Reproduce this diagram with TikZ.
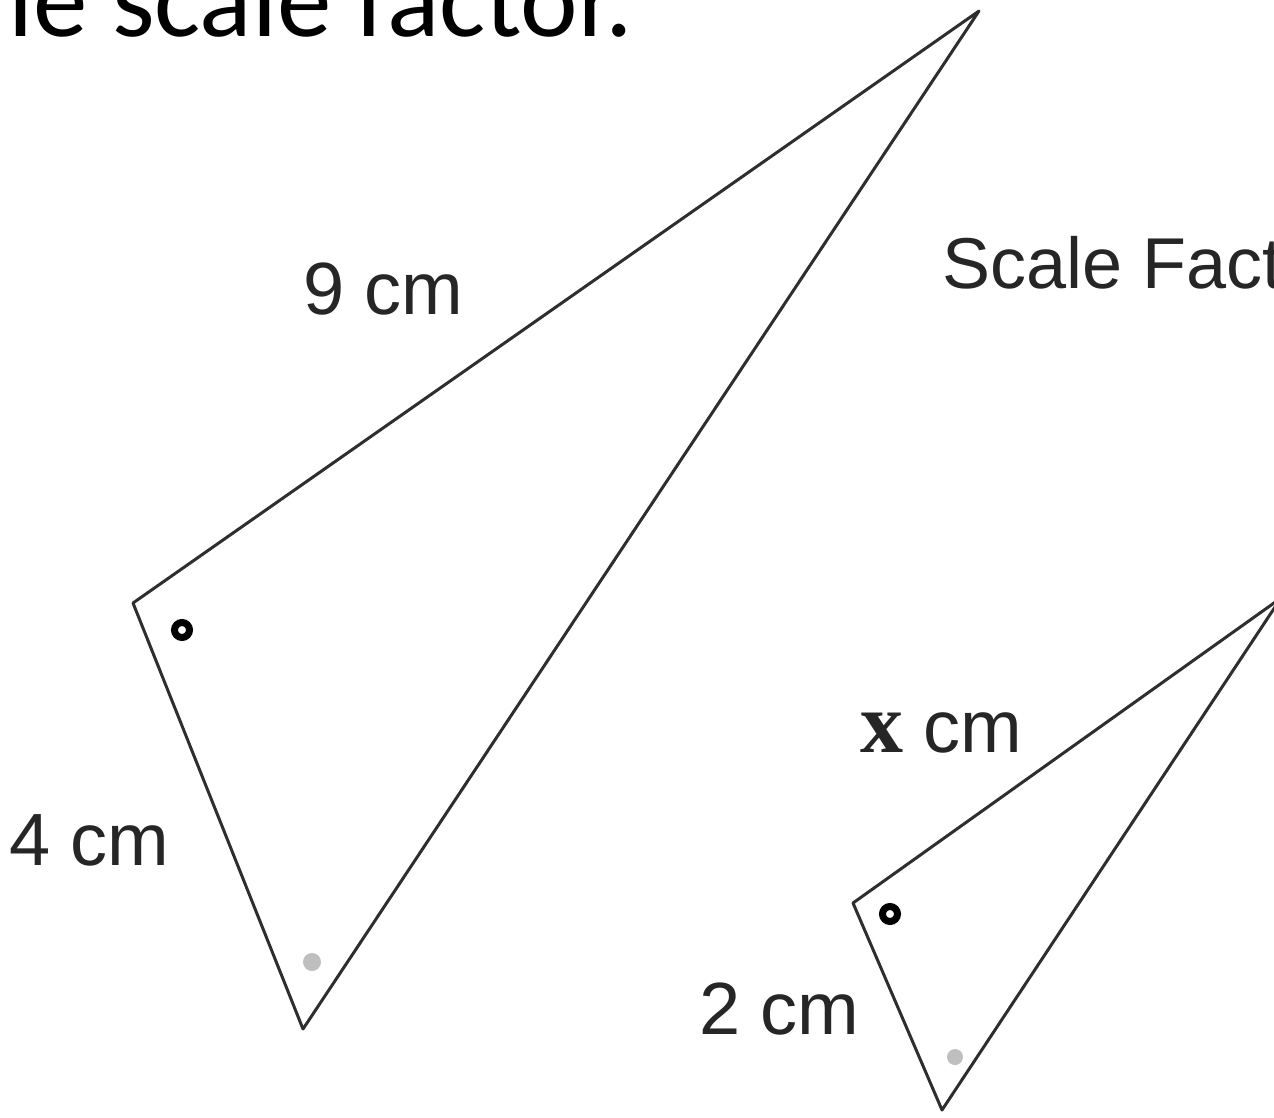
\documentclass[tikz,border=0pt]{standalone}
\usepackage{fontspec}
\setmainfont{Liberation Sans}
\newfontfamily\titlefont{Carlito}
\newfontfamily\serifx{Liberation Serif}
\begin{document}
\begin{tikzpicture}[x=1pt,y=-1pt,
  edge/.style={draw=black!82,line width=3pt,line join=round},
  lbl/.style={font=\fontsize{74}{80}\selectfont, text=black!85, inner sep=0pt, anchor=base west},
  ringmark/.style={draw=black, line width=7pt},
  dotmark/.style={fill=black!25}]
\useasboundingbox (0,0) rectangle (1274,1118);
\clip (0,0) rectangle (1274,1118);
% title
\node[font=\titlefont\fontsize{109}{120}\selectfont, inner sep=0pt, anchor=base west] (title) at (8,37) {le scale factor.};
% large triangle
\coordinate (A) at (133,603);
\coordinate (B) at (979,11);
\coordinate (C) at (303,1029);
\draw[edge] (A) -- (B) -- (C) -- cycle;
% small triangle
\coordinate (D) at (853,903);
\coordinate (E) at (1281,598);
\coordinate (F) at (942,1110);
\draw[edge] (D) -- (E) -- (F) -- cycle;
% markers
\draw[ringmark] (182,630) circle (7.5pt);
\draw[ringmark] (890,914) circle (7.5pt);
\fill[dotmark] (312,962) circle (9pt);
\fill[dotmark] (955,1057) circle (8pt);
% labels
\node[lbl] (l9) at (303,314) {9 cm};
\node[lbl, font=\fontsize{72}{80}\selectfont] (lsf) at (942,288) {Scale Fact};
\node[lbl] (lx) at (860,752) {{\serifx\bfseries\fontsize{86}{90}\selectfont x} cm};
\node[lbl] (l4) at (9,865) {4 cm};
\node[lbl] (l2) at (699,1034) {2 cm};
\end{tikzpicture}
\end{document}
